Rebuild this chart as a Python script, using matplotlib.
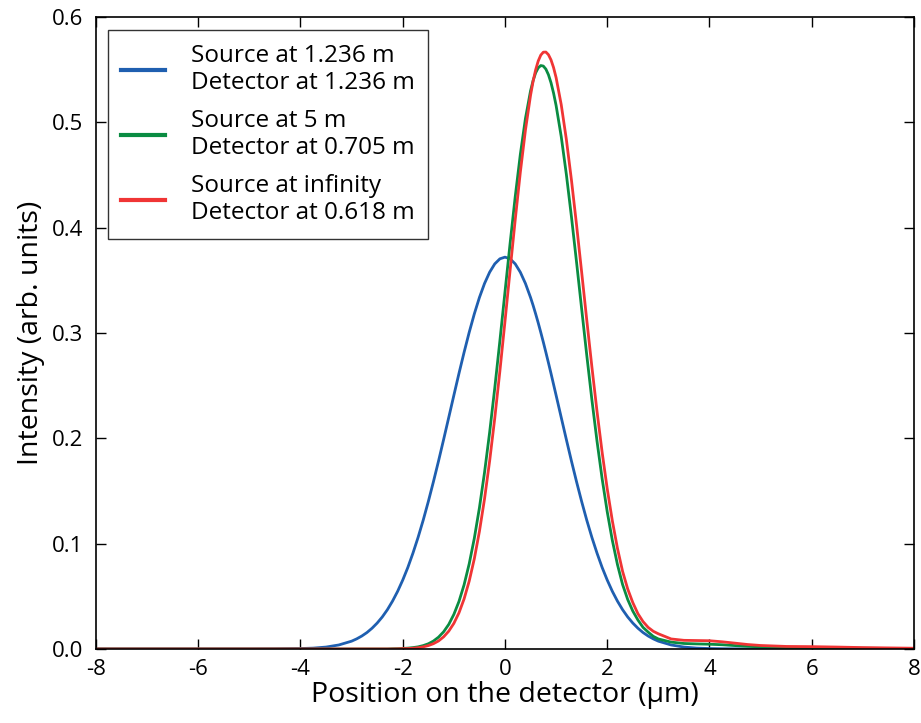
import matplotlib
matplotlib.use("Agg")
import matplotlib.pyplot as plt

plt.rcParams['font.family'] = ['Open Sans', 'DejaVu Sans']
plt.rcParams['axes.unicode_minus'] = False

# position on the detector (um)
x = [-8, -7, -6, -5, -4.5, -4, -3.75, -3.5, -3.25,
     -3.0, -2.9, -2.8, -2.7, -2.6, -2.5, -2.4, -2.3, -2.2, -2.1,
     -2.0, -1.9, -1.8, -1.7, -1.6,
     -1.5, -1.4, -1.3, -1.2, -1.1, -1.0, -0.9, -0.8, -0.7, -0.6,
     -0.5, -0.4, -0.3, -0.2, -0.1, 0.0, 0.1, 0.2, 0.3, 0.4,
     0.5, 0.55, 0.6, 0.65, 0.7, 0.75, 0.8, 0.85, 0.9, 0.95,
     1.0, 1.1, 1.2, 1.3, 1.4,
     1.5, 1.6, 1.7, 1.8, 1.9, 2.0, 2.1, 2.2, 2.3, 2.4,
     2.5, 2.6, 2.7, 2.8, 2.9, 3.0,
     3.25, 3.5, 3.75, 4, 4.25, 4.5, 4.75, 5, 5.5, 6, 6.5, 7, 7.5, 8]

# Source at 1.236 m / detector at 1.236 m
blue = [0, 0, 0, 0, 0.0001, 0.0004, 0.0008, 0.0018, 0.0038,
        0.0074, 0.0096, 0.0123, 0.0156, 0.0197, 0.0246, 0.0304, 0.0373, 0.0454, 0.0547,
        0.0654, 0.0774, 0.0910, 0.1059, 0.1222,
        0.1399, 0.1587, 0.1784, 0.1989, 0.2198, 0.2408, 0.2616, 0.2816, 0.3006, 0.3181,
        0.3337, 0.3470, 0.3577, 0.3656, 0.3704, 0.3720, 0.3704, 0.3656, 0.3577, 0.3470,
        0.3337, 0.3262, 0.3181, 0.3096, 0.3006, 0.2913, 0.2816, 0.2717, 0.2616, 0.2512,
        0.2408, 0.2198, 0.1989, 0.1784, 0.1587,
        0.1399, 0.1222, 0.1059, 0.0910, 0.0774, 0.0654, 0.0547, 0.0454, 0.0373, 0.0304,
        0.0246, 0.0197, 0.0156, 0.0123, 0.0096, 0.0074,
        0.0038, 0.0018, 0.0008, 0.0004, 0.0002, 0.0001, 0, 0, 0, 0, 0, 0, 0, 0]

# Source at 5 m / detector at 0.705 m
green = [0, 0, 0, 0, 0, 0, 0, 0, 0,
         0, 0, 0, 0, 0, 0, 0, 0, 0.0002, 0.0003,
         0.0005, 0.0008, 0.0013, 0.0020, 0.0032,
         0.0049, 0.0075, 0.0112, 0.0163, 0.0233, 0.0328, 0.0451, 0.0609, 0.0808, 0.1050,
         0.1340, 0.1676, 0.2057, 0.2477, 0.2925, 0.3389, 0.3851, 0.4293, 0.4695, 0.5036,
         0.5299, 0.5397, 0.5470, 0.5517, 0.5539, 0.5534, 0.5505, 0.5452, 0.5376, 0.5278,
         0.5159, 0.4865, 0.4507, 0.4103, 0.3671,
         0.3227, 0.2787, 0.2365, 0.1973, 0.1617, 0.1302, 0.1030, 0.0801, 0.0612, 0.0470,
         0.0360, 0.0275, 0.0205, 0.0160, 0.0120, 0.0095,
         0.0065, 0.0052, 0.0048, 0.0045, 0.0040, 0.0032, 0.0025, 0.0020, 0.0013, 0.0010, 0.0009, 0.0007, 0.0005, 0.0003]

# Source at infinity / detector at 0.618 m
red = [0, 0, 0, 0, 0, 0, 0, 0, 0,
       0, 0, 0, 0, 0, 0, 0, 0, 0, 0.0001,
       0.0003, 0.0004, 0.0007, 0.0012, 0.0020,
       0.0032, 0.0050, 0.0076, 0.0115, 0.0169, 0.0243, 0.0343, 0.0475, 0.0644, 0.0856,
       0.1116, 0.1425, 0.1785, 0.2191, 0.2637, 0.3110, 0.3595, 0.4074, 0.4525, 0.4926,
       0.5257, 0.5390, 0.5499, 0.5582, 0.5638, 0.5666, 0.5667, 0.5642, 0.5593, 0.5520,
       0.5424, 0.5168, 0.4839, 0.4452, 0.4025,
       0.3576, 0.3121, 0.2677, 0.2256, 0.1868, 0.1520, 0.1216, 0.0955, 0.0737, 0.0570,
       0.0440, 0.0335, 0.0260, 0.0205, 0.0168, 0.0144,
       0.0095, 0.0082, 0.0080, 0.0078, 0.0068, 0.0055, 0.0042, 0.0033, 0.0024, 0.0022, 0.0018, 0.0013, 0.0010, 0.0007]

labels = ["Source at 1.236 m\nDetector at 1.236 m",
          "Source at 5 m\nDetector at 0.705 m",
          "Source at infinity\nDetector at 0.618 m"]
colors = ['#1f5fb0', '#0a8c42', '#f03535']

fig = plt.figure(figsize=(9.21, 7.23), dpi=100)
ax = fig.add_axes([0.1042, 0.1024, 0.8882, 0.8741])

for y, lab, c in zip([blue, green, red], labels, colors):
    ax.plot(x, y, color=c, lw=2.0, label=lab)

ax.set_xlim(-8, 8)
ax.set_ylim(0, 0.6)
ax.set_xticks(range(-8, 9, 2))
ax.set_yticks([0.0, 0.1, 0.2, 0.3, 0.4, 0.5, 0.6])
ax.set_yticklabels(["0.0", "0.1", "0.2", "0.3", "0.4", "0.5", "0.6"])
ax.tick_params(direction='in', length=7, width=1, top=True, right=True,
               labelsize=16)
ax.tick_params(axis='y', pad=9)
ax.tick_params(axis='x', pad=7)
for s in ax.spines.values():
    s.set_linewidth(1.2)

ax.set_xlabel("Position on the detector (µm)", fontsize=20.5, labelpad=1)
ax.set_ylabel("Intensity (arb. units)", fontsize=20.5, labelpad=5)

leg = ax.legend(loc='upper left', bbox_to_anchor=(0.0147, 0.979), fontsize=17.5,
                frameon=True, fancybox=False, edgecolor='black',
                handlelength=1.8, handletextpad=1.05, labelspacing=0.55,
                borderpad=0.55, borderaxespad=0)
leg.get_frame().set_linewidth(1.0)
for line in leg.get_lines():
    line.set_linewidth(3.0)

fig.savefig("out.png", dpi=100)
